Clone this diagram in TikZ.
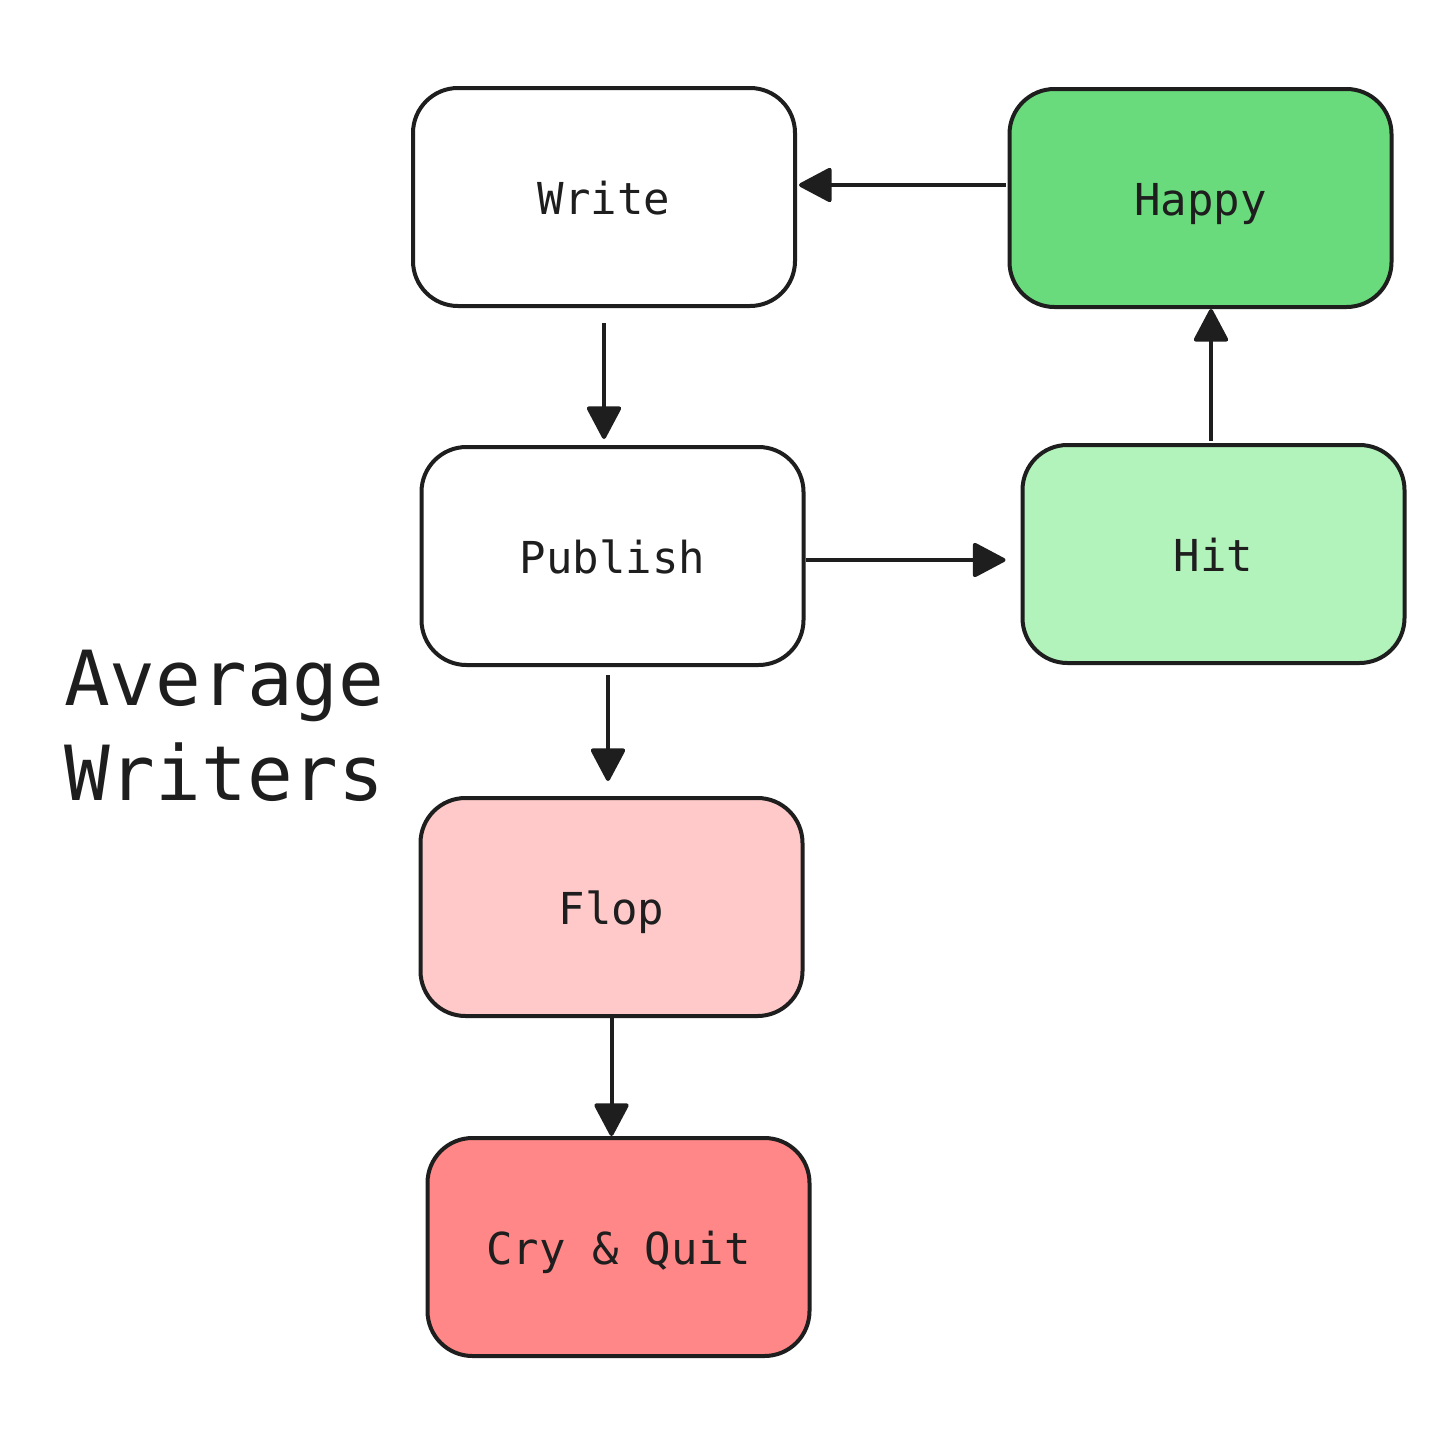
\documentclass[tikz,border=0pt]{standalone}
\usepackage{fontspec}
\setmonofont{DejaVu Sans Mono}
\usetikzlibrary{arrows.meta,calc}
\definecolor{ink}{HTML}{1E1E1E}
\definecolor{happyc}{HTML}{69DB7C}
\definecolor{hitc}{HTML}{B2F2BB}
\definecolor{flopc}{HTML}{FFC9C9}
\definecolor{cryc}{HTML}{FF8787}
\tikzset{
  box/.style={draw=ink, line width=4pt, rounded corners=45pt, minimum width=382pt, minimum height=218pt,
    inner sep=0pt, text height=35pt, text depth=0pt, text=ink, font=\ttfamily\fontsize{44}{50}\selectfont},
  arr/.style={draw=ink, line width=4pt, -{Triangle[length=35pt,width=36pt,round]}},
}
\begin{document}
\begin{tikzpicture}[x=1pt,y=-1pt]
\useasboundingbox (0,0) rectangle (1456,1456);
\fill[white] (0,0) rectangle (1456,1456);
\node[box, fill=white] (w) at (604,197) {Write};
\node[box, fill=happyc] (h) at (1200.5,198) {Happy};
\node[box, fill=white] (p) at (612.5,556) {Publish};
\node[box, fill=hitc] (hit) at (1213.5,554) {Hit};
\node[box, fill=flopc] (f) at (611.5,907) {Flop};
\node[box, fill=cryc] (c) at (618.5,1247) {Cry \& Quit};
\node[anchor=north west, align=left, inner sep=0pt, text=ink, font=\ttfamily\fontsize{76}{95}\selectfont] (t) at (64,650) {Average\\Writers};
\draw[arr] ($(w.south)+(0,15)$) -- ($(w.south |- p.north)+(0,-6)$);
\draw[arr] ($(p.south)+(-4.5,8)$) -- ($(p.south |- f.north)+(-4.5,-15)$);
\draw[arr] (f.south) -- (f.south |- c.north);
\draw[arr] ($(p.east)+(0,4)$) -- ($(hit.west |- p.east)+(-15,4)$);
\draw[arr] ($(hit.north)+(-2.5,-2)$) -- ($(hit.north |- h.south)+(-2.5,0)$);
\draw[arr] ($(h.west)+(-2,-13)$) -- ($(w.east |- h.west)+(2,-13)$);
\end{tikzpicture}
\end{document}
